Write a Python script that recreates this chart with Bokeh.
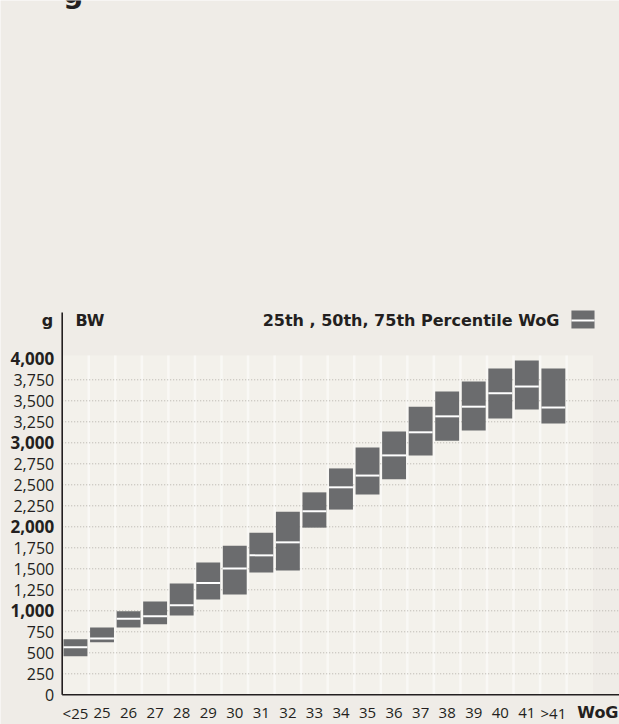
from bokeh.plotting import figure
from bokeh.models import Range1d
from bokeh.core.properties import value
from bokeh.embed import file_html
from bokeh.resources import INLINE

# ---------------- data ----------------
cats = ["<25", "25", "26", "27", "28", "29", "30", "31", "32", "33",
        "34", "35", "36", "37", "38", "39", "40", "41", ">41"]
p25 = [460, 625, 800, 840, 945, 1135, 1195, 1455, 1480, 1990,
       2205, 2385, 2565, 2850, 3025, 3145, 3290, 3395, 3230]
p50 = [565, 670, 905, 935, 1065, 1330, 1505, 1660, 1815, 2185,
       2470, 2610, 2850, 3125, 3315, 3430, 3590, 3670, 3420]
p75 = [660, 800, 995, 1110, 1325, 1575, 1775, 1930, 2180, 2410,
       2695, 2945, 3135, 3430, 3610, 3730, 3885, 3980, 3885]
y_ticks = [0, 250, 500, 750, 1000, 1250, 1500, 1750, 2000, 2250,
           2500, 2750, 3000, 3250, 3500, 3750, 4000]
bold_ticks = [1000, 2000, 3000, 4000]
unit_text = "g"
y_title = "BW"
legend_text = "25th , 50th, 75th Percentile WoG"
x_title = "WoG"
cut_title = "g"   # bottom of a heading glyph cut off at the top edge

# ---------------- style / layout ----------------
PAGE_BG = "#efece7"
COL_BG = "#f3f1eb"
SEP = "#f9f8f5"
BAR = "#6b6c6e"
INK = "#231f20"
GRID = "#b3b0aa"
FONT = "Open Sans"
HEAVY = "DejaVu Sans"

FIG_W, FIG_H = 619, 724
AXIS_X_PX = 61.7      # axis position from figure left (px)
AXIS_Y_PX = 29.7      # axis position from figure bottom (px)
COLW = 26.55          # px per category
PXV = 0.084           # px per gram


def dx(px):
    return px / COLW


def dy(px):
    return px / PXV


X0, X1 = -dx(AXIS_X_PX), dx(FIG_W - AXIS_X_PX)
Y0, Y1 = -dy(AXIS_Y_PX), dy(FIG_H - AXIS_Y_PX)

n = len(cats)
xc = [i + 0.5 for i in range(n)]
BG_TOP = 4040
AXIS_TOP = 4551
HEAD_Y = 4456

p = figure(width=FIG_W, height=FIG_H, output_backend="svg", toolbar_location=None,
           x_range=Range1d(X0, X1), y_range=Range1d(Y0, Y1),
           min_border=0, min_border_left=0, min_border_right=0,
           min_border_top=0, min_border_bottom=0,
           background_fill_color=PAGE_BG, border_fill_color=PAGE_BG,
           outline_line_color=None)
p.xaxis.visible = False
p.yaxis.visible = False
p.grid.visible = False

# column backgrounds and separators
p.quad(left=[0], right=[n + 1], bottom=[0], top=[BG_TOP],
       fill_color=COL_BG, line_color=None)
p.segment(x0=list(range(1, n + 1)), x1=list(range(1, n + 1)),
          y0=[0] * n, y1=[BG_TOP] * n, line_color=SEP, line_width=2.5)

# dotted grid lines (not at 0 and 4000)
g_ticks = y_ticks[1:-1]
p.segment(x0=[0] * len(g_ticks), x1=[X1] * len(g_ticks), y0=g_ticks, y1=g_ticks,
          line_color=GRID, line_dash="1 2", line_width=1)

# axis lines
p.segment(x0=[0], x1=[X1], y0=[0], y1=[0], line_color=INK, line_width=1.6)
p.segment(x0=[0], x1=[0], y0=[0], y1=[AXIS_TOP], line_color=INK, line_width=1.6)

# bars with median line
p.vbar(x=xc, width=0.9, bottom=p25, top=p75, fill_color=BAR, line_color=None)
p.rect(x=xc, y=p50, width=0.9, height=2, height_units="screen",
       fill_color="white", line_color=None)

# y tick labels
norm_ticks = [t for t in y_ticks if t not in bold_ticks]
p.text(x=[dx(-8)] * len(norm_ticks), y=norm_ticks,
       text=[f"{t:,}" for t in norm_ticks], text_align="right",
       text_baseline="middle", text_font=value(FONT), text_font_size="16px",
       text_color=INK)
p.text(x=[dx(-8)] * len(bold_ticks), y=bold_ticks,
       text=[f"{t:,}" for t in bold_ticks], text_align="right",
       text_baseline="middle", text_font=value(FONT), text_font_size="17px",
       text_font_style="bold", text_color=INK)

# x tick labels
p.text(x=xc, y=[dy(-17.9)] * n, text=cats, text_align="center",
       text_baseline="middle", text_font=value(FONT), text_font_size="15px",
       text_color=INK)
p.text(x=[X1 - dx(1)], y=[dy(-17.2)], text=[x_title], text_align="right",
       text_baseline="middle", text_font=value(HEAVY), text_font_size="16px",
       text_font_style="bold", text_color=INK)

# header texts
p.text(x=[dx(-9)], y=[HEAD_Y], text=[unit_text], text_align="right",
       text_baseline="middle", text_font=value(HEAVY), text_font_size="16px",
       text_font_style="bold", text_color=INK)
p.text(x=[dx(13.3)], y=[HEAD_Y], text=[y_title], text_align="left",
       text_baseline="middle", text_font=value(HEAVY), text_font_size="16px",
       text_font_style="bold", text_color=INK)

# legend swatch
SW_L, SW_R, SW_B, SW_T, SW_M = 19.18, 20.05, 4361, 4575, 4456
p.text(x=[SW_L - dx(12)], y=[HEAD_Y], text=[legend_text], text_align="right",
       text_baseline="middle", text_font=value(HEAVY), text_font_size="16px",
       text_font_style="bold", text_color=INK)
p.quad(left=[SW_L], right=[SW_R], bottom=[SW_B], top=[SW_T], fill_color=BAR,
       line_color=None)
p.rect(x=[(SW_L + SW_R) / 2], y=[SW_M], width=SW_R - SW_L, height=2,
       height_units="screen", fill_color="white", line_color=None)

# heading glyph cut off at the top edge
p.text(x=[dx(1)], y=[Y1 + dy(7)], text=[cut_title], text_align="left",
       text_baseline="alphabetic", text_font=value(HEAVY), text_font_size="28px",
       text_font_style="bold", text_color=INK)

open("out.html", "w").write(file_html(p, INLINE))
